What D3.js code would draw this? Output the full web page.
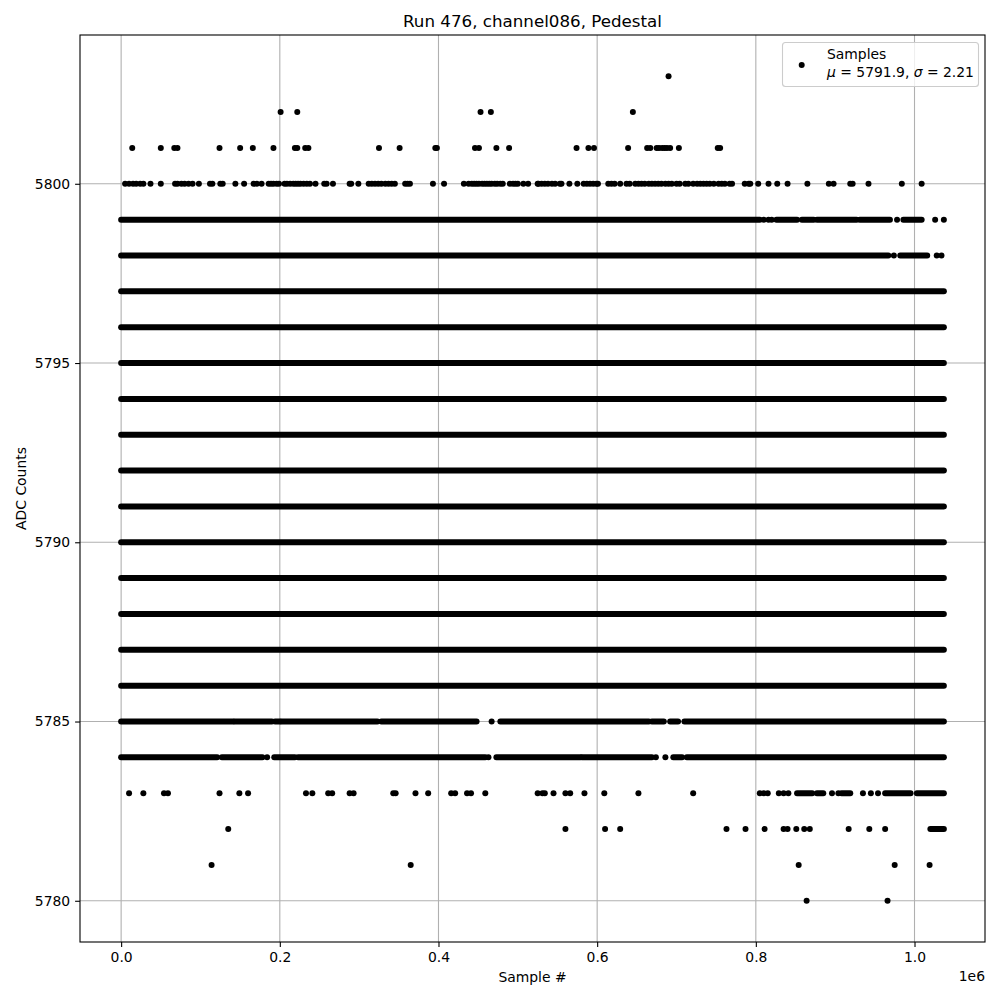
<!DOCTYPE html>
<html>
<head>
<meta charset="utf-8">
<script src="https://cdn.jsdelivr.net/npm/d3@7"></script>
<style>
  html, body { margin: 0; padding: 0; background: #fff; }
  svg { display: block; font-family: "DejaVu Sans", sans-serif; }
</style>
</head>
<body>
<svg id="chart" width="1000" height="1000"></svg>
<script>
// ---------------- DATA (sample # in thousands, ADC counts) ----------------
const title = "Run 476, channel086, Pedestal";
const xLabel = "Sample #";
const yLabel = "ADC Counts";
const xTickValues = [0, 200000, 400000, 600000, 800000, 1000000];
const xTickLabels = ["0.0", "0.2", "0.4", "0.6", "0.8", "1.0"];
const xOffsetLabel = "1e6";
const yTickValues = [5780, 5785, 5790, 5795, 5800];
const yTickLabels = ["5780", "5785", "5790", "5795", "5800"];
const legendLine1 = "Samples";
const legendMu = 5791.9;
const legendSigma = 2.21;

const sampleFirst = 0;      // thousands
const sampleLast = 1037;    // thousands

// isolated samples per ADC level (sample # / 1000)
const pts5803 = [690];
const pts5802 = [201, 222, 453, 466, 645];
const pts5801 = [14, 50, 67, 71, 124, 150, 166, 192, 219, 222, 232, 236, 325, 351, 396, 398,
  446, 451, 473, 489, 574, 589, 596, 639, 663, 667, 675, 678, 682, 685, 688, 692, 703, 752, 755];
const pts5800 = [5, 10, 15, 19, 24, 28, 37, 50, 68, 71, 76, 80, 85, 90, 98, 112, 115, 125, 128,
  144, 155, 167, 171, 177, 186, 189, 192, 196, 199, 206, 209, 213, 217, 220, 223, 226, 230, 234,
  238, 245, 256, 259, 267, 288, 290, 299, 312, 316, 320, 324, 328, 333, 337, 341, 345, 358, 361,
  364, 393, 407, 432, 438, 442, 445, 448, 451, 455, 458, 461, 464, 467, 471, 474, 478, 481, 490,
  494, 497, 500, 507, 513, 525, 526, 530, 534, 538, 543, 547, 553, 555, 565, 575, 583, 587, 591,
  595, 599, 601, 614, 618, 622, 629, 637, 641, 648, 652, 656, 660, 665, 669, 673, 677, 681, 686,
  690, 694, 700, 704, 711, 715, 721, 726, 730, 734, 738, 742, 747, 753, 757, 761, 767, 770, 786,
  791, 793, 803, 816, 827, 840, 865, 892, 898, 919, 922, 942, 984, 1009];
const pts5799 = [810, 816, 820, 978, 1026, 1037];
const pts5798 = [974, 1028, 1034];
const pts5785 = [467];
const pts5784 = [184, 463, 674, 686];
const pts5783 = [10, 28, 54, 59, 124, 149, 160, 233, 241, 261, 266, 288, 293, 343, 346, 371, 387,
  416, 421, 436, 441, 459, 525, 531, 534, 545, 560, 566, 584, 609, 652, 721, 805, 810, 815, 829,
  835, 841, 896, 904, 935, 945, 954];
const pts5782 = [135, 560, 610, 629, 763, 787, 811, 835, 840, 851, 861, 868, 917, 943, 963];
const pts5781 = [114, 365, 854, 975, 1019];
const pts5780 = [864, 966];

// runs of consecutive samples per ADC level ([from, to], sample # / 1000)
const runs5799 = [[0, 805], [826, 852], [858, 873], [877, 927], [931, 969], [986, 1009]];
const runs5798 = [[0, 967], [982, 1016]];
const solidLevels = [5786, 5787, 5788, 5789, 5790, 5791, 5792, 5793, 5794, 5795, 5796, 5797];
const runs5785 = [[0, 141], [143, 190], [194, 200], [202, 323], [328, 448], [478, 665],
  [669, 684], [692, 702], [710, 1037]];
const runs5784 = [[0, 121], [127, 178], [193, 219], [223, 459], [473, 579], [581, 669],
  [696, 707], [713, 1037]];
const runs5783 = [[852, 871], [877, 885], [908, 919], [963, 995], [1003, 1037]];
const runs5782 = [[1020, 1037]];

// ---------------- BUILD ----------------
(function () {
const rows = [
  { adc: 5803, pts: pts5803, runs: [] },
  { adc: 5802, pts: pts5802, runs: [] },
  { adc: 5801, pts: pts5801, runs: [] },
  { adc: 5800, pts: pts5800, runs: [] },
  { adc: 5799, pts: pts5799, runs: runs5799 },
  { adc: 5798, pts: pts5798, runs: runs5798 },
  ...solidLevels.map(a => ({ adc: a, pts: [], runs: [[sampleFirst, sampleLast]] })),
  { adc: 5785, pts: pts5785, runs: runs5785 },
  { adc: 5784, pts: pts5784, runs: runs5784 },
  { adc: 5783, pts: pts5783, runs: runs5783 },
  { adc: 5782, pts: pts5782, runs: runs5782 },
  { adc: 5781, pts: pts5781, runs: [] },
  { adc: 5780, pts: pts5780, runs: [] }
];

const allAdc = rows.map(r => r.adc);
const xMin = sampleFirst * 1000, xMax = sampleLast * 1000;
const yMin = d3.min(allAdc), yMax = d3.max(allAdc);
const xPad = 0.05 * (xMax - xMin), yPad = 0.05 * (yMax - yMin);

const pL = 80, pR = 985, pT = 35, pB = 942;
const svg = d3.select("#chart");

const x = d3.scaleLinear().domain([xMin - xPad, xMax + xPad]).range([pL, pR]);
const y = d3.scaleLinear().domain([yMin - yPad, yMax + yPad]).range([pB, pT]);

const fs = 13.9;
const gridColor = "#b0b0b0";

// grid
const grid = svg.append("g");
grid.selectAll("line.gx").data(xTickValues).join("line")
  .attr("class", "gx")
  .attr("x1", d => x(d)).attr("x2", d => x(d))
  .attr("y1", pT).attr("y2", pB)
  .attr("stroke", gridColor).attr("stroke-width", 1.1);
grid.selectAll("line.gy").data(yTickValues).join("line")
  .attr("class", "gy")
  .attr("x1", pL).attr("x2", pR)
  .attr("y1", d => y(d)).attr("y2", d => y(d))
  .attr("stroke", gridColor).attr("stroke-width", 1.1);

// data
const plot = svg.append("g");
const runData = rows.flatMap(r => r.runs.map(s => ({ adc: r.adc, s0: s[0] * 1000, s1: s[1] * 1000 })));
const ptData = rows.flatMap(r => r.pts.map(p => ({ adc: r.adc, s: p * 1000 })));
plot.selectAll("line.run").data(runData).join("line")
  .attr("class", "run")
  .attr("x1", d => x(d.s0)).attr("x2", d => x(d.s1))
  .attr("y1", d => y(d.adc)).attr("y2", d => y(d.adc))
  .attr("stroke", "#000").attr("stroke-width", 6).attr("stroke-linecap", "round");
plot.selectAll("circle.pt").data(ptData).join("circle")
  .attr("class", "pt")
  .attr("cx", d => x(d.s)).attr("cy", d => y(d.adc)).attr("r", 3)
  .attr("fill", "#000");

// axes
const xAxis = d3.axisBottom(x).tickValues(xTickValues)
  .tickFormat((d, i) => xTickLabels[i]).tickSize(4.9).tickPadding(4.9);
const yAxis = d3.axisLeft(y).tickValues(yTickValues)
  .tickFormat((d, i) => yTickLabels[i]).tickSize(4.9).tickPadding(4.9);

const gx = svg.append("g").attr("transform", `translate(0,${pB})`).call(xAxis);
const gy = svg.append("g").attr("transform", `translate(${pL},0)`).call(yAxis);
[gx, gy].forEach(g => {
  g.select(".domain").remove();
  g.selectAll(".tick line").attr("stroke", "#000").attr("stroke-width", 1.1);
  g.selectAll(".tick text").attr("fill", "#000").style("font-size", fs + "px")
    .style("font-family", "DejaVu Sans");
});

// frame
svg.append("rect").attr("x", pL).attr("y", pT)
  .attr("width", pR - pL).attr("height", pB - pT)
  .attr("fill", "none").attr("stroke", "#000").attr("stroke-width", 1.1);

// offset text
svg.append("text").attr("x", pR).attr("y", 981).attr("text-anchor", "end")
  .style("font-size", fs + "px").text(xOffsetLabel);

// labels
svg.append("text").attr("x", (pL + pR) / 2).attr("y", 982).attr("text-anchor", "middle")
  .style("font-size", fs + "px").text(xLabel);
svg.append("text").attr("transform", `translate(26,${(pT + pB) / 2}) rotate(-90)`)
  .attr("text-anchor", "middle").style("font-size", fs + "px").text(yLabel);
svg.append("text").attr("x", (pL + pR) / 2).attr("y", 27).attr("text-anchor", "middle")
  .style("font-size", "16.7px").text(title);

// legend
const lg = svg.append("g");
lg.append("rect").attr("x", 782.5).attr("y", 42.5).attr("width", 196).attr("height", 44)
  .attr("rx", 3).attr("ry", 3)
  .attr("fill", "#fff").attr("fill-opacity", 0.8)
  .attr("stroke", "#cccccc").attr("stroke-width", 1.1);
lg.append("circle").attr("cx", 801.7).attr("cy", 65).attr("r", 3).attr("fill", "#000");
lg.append("text").attr("x", 827).attr("y", 59).style("font-size", fs + "px").text(legendLine1);
const t2 = lg.append("text").attr("x", 827).attr("y", 76.5).style("font-size", fs + "px");
t2.append("tspan").style("font-style", "italic").text("\u03bc");
t2.append("tspan").text(` = ${legendMu.toFixed(1)}, `);
t2.append("tspan").style("font-style", "italic").text("\u03c3");
t2.append("tspan").text(` = ${legendSigma.toFixed(2)}`);
})();
</script>
</body>
</html>
